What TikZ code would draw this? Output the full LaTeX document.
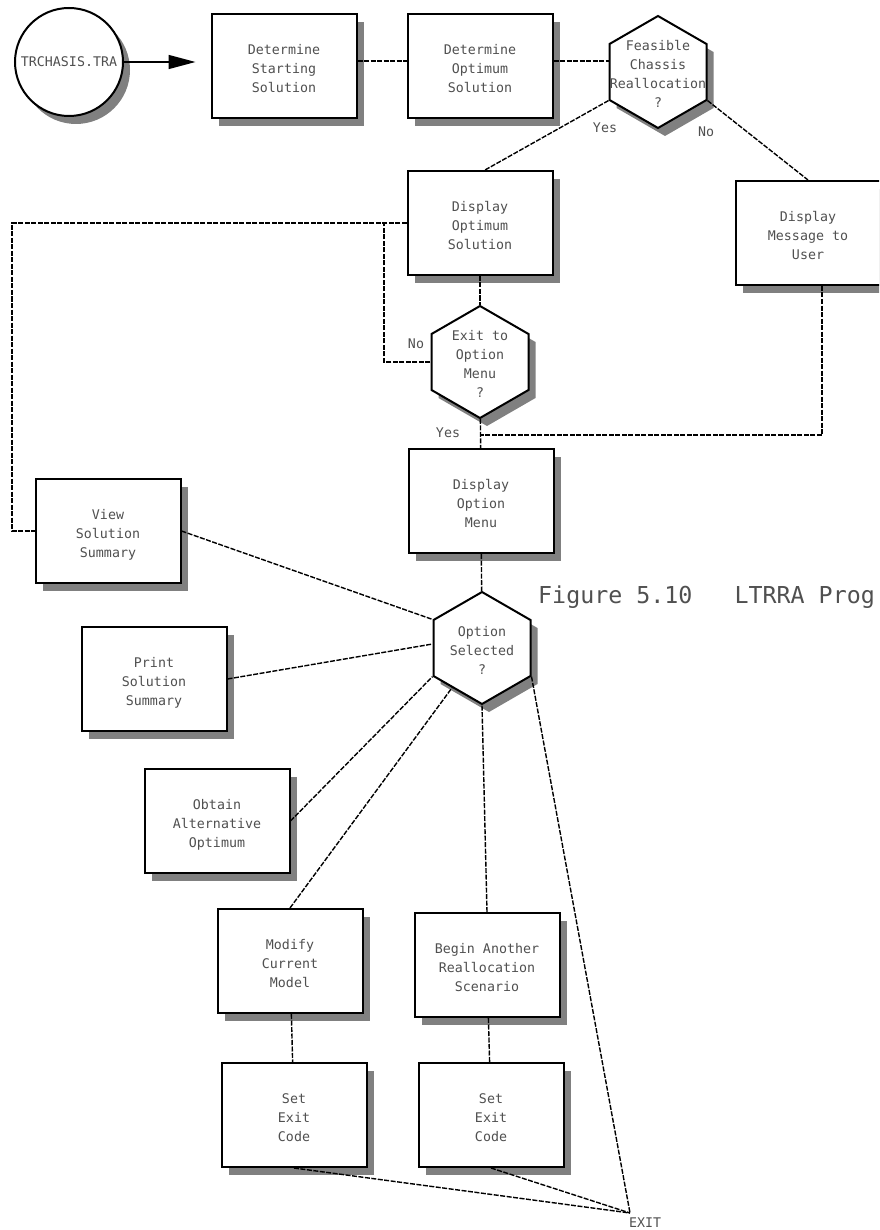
\documentclass[tikz,border=0pt]{standalone}
\usepackage{fontspec}
\newfontfamily\chartfont{DejaVu Sans Mono}
\usetikzlibrary{arrows.meta,shapes.geometric,shadows}
\definecolor{shadowgray}{RGB}{128,128,128}
\definecolor{textgray}{RGB}{80,80,80}
\newcommand{\chartlines}[1]{\smash{\raisebox{-7pt}{\begin{tabular}{@{}c@{}}#1\end{tabular}}}}
\newcommand{\hexlines}[1]{\makebox[0pt]{\chartlines{#1}}}

\begin{document}
\begin{tikzpicture}[x=1pt,y=-1pt,
  box shadow/.style={drop shadow={shadow xshift=7pt,shadow yshift=-8pt,fill=shadowgray,opacity=1}},
  main node/.style={rectangle,draw,line width=2pt,fill=white,minimum width=145pt,minimum height=104pt,
    inner sep=0pt,text=textgray,font=\chartfont\fontsize{13.3}{19}\selectfont,box shadow},
  hex node/.style={regular polygon,regular polygon sides=6,shape border rotate=30,minimum size=112pt,
    draw,line width=2pt,fill=white,inner sep=0pt,text=textgray,font=\chartfont\fontsize{13.3}{19}\selectfont,box shadow},
  start node/.style={circle,draw,line width=2pt,fill=white,minimum size=108pt,inner sep=0pt,
    text=textgray,font=\chartfont\fontsize{13.3}{19}\selectfont,box shadow},
  label node/.style={inner sep=0pt,text=textgray,font=\chartfont\fontsize{13.3}{19}\selectfont},
  caption node/.style={inner sep=0pt,text=textgray,font=\chartfont\fontsize{23.3}{28}\selectfont},
  link/.style={draw,line width=1.4pt,dash pattern=on 5pt off 1.5pt},
  arrow link/.style={draw,line width=1.5pt,-{Triangle[length=27pt,width=14pt]},shorten >=15pt}]

  \useasboundingbox (0,0) rectangle (879,1230);
  \clip (0,0) rectangle (879,1230);

  \node[start node] (trchasis) at (69,62) {TRCHASIS.TRA};
  \node[main node] (start) at (284,66) {\chartlines{Determine\\Starting\\Solution}};
  \node[main node] (optimum) at (480,66) {\chartlines{Determine\\Optimum\\Solution}};
  \node[hex node] (feasible) at (658,72) {\hexlines{Feasible\\Chassis\\Reallocation\\?}};
  \node[main node] (showopt) at (480,223) {\chartlines{Display\\Optimum\\Solution}};
  \node[main node] (message) at (808,233) {\chartlines{Display\\Message to\\User}};
  \node[hex node] (exitmenu) at (480,362) {\hexlines{Exit to\\Option\\Menu\\?}};
  \node[main node] (menu) at (481,501) {\chartlines{Display\\Option\\Menu}};
  \node[main node] (view) at (108,531) {\chartlines{View\\Solution\\Summary}};
  \node[hex node] (selected) at (482,648) {\hexlines{Option\\Selected\\?}};
  \node[main node] (print) at (154,679) {\chartlines{Print\\Solution\\Summary}};
  \node[main node] (obtain) at (217,821) {\chartlines{Obtain\\Alternative\\Optimum}};
  \node[main node] (modify) at (290,961) {\chartlines{Modify\\Current\\Model}};
  \node[main node] (another) at (487,965) {\chartlines{Begin Another\\Reallocation\\Scenario}};
  \node[main node] (setexit1) at (294,1115) {\chartlines{Set\\Exit\\Code}};
  \node[main node] (setexit2) at (491,1115) {\chartlines{Set\\Exit\\Code}};

  \node[label node] (yes1) at (605,128) {Yes};
  \node[label node] (no1) at (706,132) {No};
  \node[label node] (no2) at (416,344) {No};
  \node[label node] (yes2) at (448,433) {Yes};
  \node[label node,anchor=north west] (exitlabel) at (629,1218) {EXIT};
  \node[caption node,anchor=base west] (caption) at (538,603) {Figure 5.10~~~LTRRA Prog};

  \coordinate (leftbus) at (12,223);
  \coordinate (nobranch) at (384,223);
  \coordinate (yesjoin) at (480,435);
  \coordinate (exit) at (630,1213);

  \draw[arrow link] (trchasis) -- (trchasis -| start.west);

  \path[link]
    ([yshift=5pt]start.east) edge ([yshift=5pt]optimum.west)
    ([yshift=5pt]optimum.east) edge ([yshift=11pt]feasible.west)
    (feasible.210) edge ([xshift=5pt]showopt.north)
    (feasible.330) edge (message.north)
    (showopt) edge (exitmenu)
    (exitmenu) edge (menu)
    (menu) edge (selected)
    (view.east) edge (selected.150)
    (print.east) edge ([yshift=4pt]selected.west)
    (obtain.east) edge (selected.210)
    (modify.north) edge (selected.233)
    (another.north) edge (selected.south)
    (selected.330) edge (exit)
    (modify) edge (setexit1)
    (another) edge (setexit2)
    (setexit1.south) edge (exit)
    (setexit2.south) edge (exit);

  \draw[link] (showopt.west) -- (leftbus) |- (view.west);
  \draw[link] (exitmenu.west) -| (nobranch);
  \draw[link] ([xshift=14pt]message.south) |- (yesjoin);
\end{tikzpicture}
\end{document}
